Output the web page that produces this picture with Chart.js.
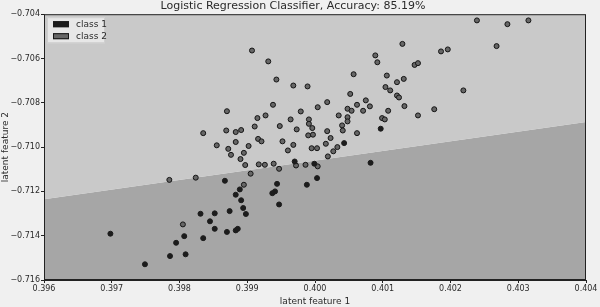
<!DOCTYPE html>
<html>
<head>
<meta charset="utf-8">
<script src="https://cdn.jsdelivr.net/npm/chart.js@4/dist/chart.umd.min.js"></script>
<style>
  html, body { margin: 0; padding: 0; background: #f0f0f0; }
  #wrap { width: 600px; height: 307px; position: relative; }
</style>
</head>
<body>
<div id="wrap"><canvas id="chart"></canvas></div>
<script>
(function () {
  "use strict";

  // ── Data ──
  var xTicks = [0.396, 0.397, 0.398, 0.399, 0.400, 0.401, 0.402, 0.403, 0.404];
  var yTicks = [-0.716, -0.714, -0.712, -0.710, -0.708, -0.706, -0.704];

  // decision boundary (ends at the plot edges)
  var boundaryX = [0.396, 0.404];
  var boundaryY = [-0.71235, -0.70887];

  var class1X = [0.39698, 0.39749, 0.39867, 0.39889, 0.39883, 0.39891, 0.39894, 0.39898, 0.39874, 0.39852,
                 0.39831, 0.39845, 0.39852, 0.39870, 0.39883, 0.39886, 0.39807, 0.39835, 0.39795, 0.39786,
                 0.39809, 0.40003, 0.39944, 0.39988, 0.39941, 0.39937, 0.39947, 0.39999, 0.40043, 0.40082,
                 0.40097, 0.39970];
  var class1Y = [-0.71391, -0.71529, -0.71152, -0.71191, -0.71215, -0.71240, -0.71275, -0.71302, -0.71289, -0.71299,
                 -0.71301, -0.71335, -0.71369, -0.71383, -0.71376, -0.71369, -0.71402, -0.71411, -0.71432, -0.71492,
                 -0.71484, -0.71140, -0.71166, -0.71170, -0.71200, -0.71208, -0.71259, -0.71075, -0.70982, -0.71071,
                 -0.70917, -0.71065];

  var class2X = [0.39907, 0.39870, 0.39915, 0.39911, 0.39835, 0.39869, 0.39883, 0.39891, 0.39916, 0.39921,
                 0.39855, 0.39872, 0.39876, 0.39883, 0.39902, 0.39895, 0.39890, 0.39897, 0.39917, 0.39905,
                 0.39785, 0.39824, 0.39895, 0.39805, 0.39931, 0.40057, 0.39943, 0.39968, 0.39989, 0.40052,
                 0.39938, 0.40018, 0.40004, 0.40075, 0.40062, 0.40081, 0.40048, 0.40054, 0.40071, 0.39979,
                 0.39927, 0.40035, 0.40048, 0.39964, 0.39991, 0.40048, 0.39991, 0.39948, 0.39996, 0.40040,
                 0.39973, 0.40018, 0.40041, 0.40062, 0.39990, 0.39997, 0.40023, 0.39952, 0.39968, 0.40016,
                 0.40033, 0.39995, 0.40003, 0.39960, 0.40027, 0.40019, 0.39939, 0.39926, 0.39972, 0.39986,
                 0.39947, 0.40004, 0.40239, 0.40129, 0.40186, 0.40196, 0.40089, 0.40092, 0.40147, 0.40152,
                 0.40106, 0.40121, 0.40131, 0.40104, 0.40111, 0.40219, 0.40121, 0.40124, 0.40132, 0.40108,
                 0.40176, 0.40152, 0.40099, 0.40103, 0.40284, 0.40315, 0.40268];
  var class2Y = [-0.70564, -0.70838, -0.70869, -0.70907, -0.70937, -0.70925, -0.70932, -0.70923, -0.70963, -0.70974,
                 -0.70992, -0.71008, -0.71035, -0.70977, -0.70995, -0.71026, -0.71054, -0.71081, -0.71078, -0.71120,
                 -0.71148, -0.71138, -0.71170, -0.71349, -0.70613, -0.70671, -0.70695, -0.70722, -0.70726, -0.70760,
                 -0.70809, -0.70797, -0.70820, -0.70789, -0.70809, -0.70816, -0.70827, -0.70836, -0.70836, -0.70839,
                 -0.70857, -0.70857, -0.70865, -0.70875, -0.70875, -0.70884, -0.70895, -0.70905, -0.70914, -0.70902,
                 -0.70920, -0.70928, -0.70925, -0.70937, -0.70947, -0.70944, -0.70959, -0.70974, -0.70990, -0.70985,
                 -0.71000, -0.71005, -0.71005, -0.71015, -0.71019, -0.71042, -0.71075, -0.71080, -0.71083, -0.71080,
                 -0.71098, -0.71087, -0.70428, -0.70534, -0.70568, -0.70559, -0.70586, -0.70617, -0.70629, -0.70621,
                 -0.70677, -0.70707, -0.70692, -0.70729, -0.70744, -0.70744, -0.70767, -0.70776, -0.70815, -0.70836,
                 -0.70829, -0.70857, -0.70869, -0.70875, -0.70445, -0.70428, -0.70544];

  var REGION_UPPER = "#c9c9c9", REGION_LOWER = "#a6a6a6";
  var C1_FILL = "#1c1c1c", C2_FILL = "#666666", C2_EDGE = "#151515";
  var TXT = "#2a2a2a";

  function pts(xs, ys) {
    return xs.map(function (x, i) { return { x: x, y: ys[i] }; });
  }
  function fmt(v) {
    return v.toFixed(3).replace("-", "\u2212");
  }

  // ── Legend drawn inside the plot, top-left ──
  var insideLegend = {
    id: "insideLegend",
    afterDatasetsDraw: function (chart) {
      var ctx = chart.ctx, a = chart.chartArea;
      ctx.save();
      ctx.strokeStyle = "#222";
      ctx.lineWidth = 1;
      ctx.strokeRect(a.left + 0.5, a.top + 0.5, a.right - a.left - 1, a.bottom - a.top - 1);

      var x0 = a.left + 3, y0 = a.top + 3;
      ctx.fillStyle = "rgba(236,236,236,0.85)";
      ctx.fillRect(x0, y0, 58, 26);
      ctx.strokeStyle = "#cfcfcf";
      ctx.strokeRect(x0 + 0.5, y0 + 0.5, 57, 25);

      var items = chart.data.datasets.filter(function (d) { return d.inLegend; });
      ctx.font = "9px 'DejaVu Sans', sans-serif";
      ctx.textBaseline = "middle";
      items.forEach(function (d, i) {
        var cy = y0 + 7 + i * 12;
        ctx.fillStyle = d.backgroundColor;
        ctx.fillRect(x0 + 6, cy - 3, 16, 6);
        ctx.strokeStyle = d.borderColor;
        ctx.strokeRect(x0 + 6.5, cy - 2.5, 15, 5);
        ctx.fillStyle = TXT;
        ctx.fillText(d.label, x0 + 29, cy);
      });
      ctx.restore();
    }
  };

  new Chart(document.getElementById("chart"), {
    type: "scatter",
    data: {
      datasets: [
        {
          label: "class 1", inLegend: true,
          data: pts(class1X, class1Y),
          backgroundColor: C1_FILL, borderColor: C1_FILL, borderWidth: 1,
          pointRadius: 2.5, pointStyle: "circle", order: 1
        },
        {
          label: "class 2", inLegend: true,
          data: pts(class2X, class2Y),
          backgroundColor: C2_FILL, borderColor: C2_EDGE, borderWidth: 1,
          pointRadius: 2.5, pointStyle: "circle", order: 2
        },
        {
          label: "region 2", type: "line",
          data: pts(boundaryX, boundaryY),
          showLine: true, borderWidth: 0, pointRadius: 0,
          fill: "end", backgroundColor: REGION_UPPER, order: 5
        },
        {
          label: "region 1", type: "line",
          data: pts(boundaryX, boundaryY),
          showLine: true, borderWidth: 0, pointRadius: 0,
          fill: "start", backgroundColor: REGION_LOWER, order: 6
        }
      ]
    },
    options: {
      responsive: true, maintainAspectRatio: false, animation: false,
      layout: { padding: { left: 0, right: 14, top: 0, bottom: 0 } },
      plugins: {
        legend: { display: false },
        tooltip: { enabled: false },
        filler: { propagate: false },
        title: {
          display: true,
          text: "Logistic Regression Classifier, Accuracy: 85.19%",
          color: TXT,
          font: { family: "'DejaVu Sans', sans-serif", size: 11, weight: "normal" },
          padding: { top: 0, bottom: 1 }
        }
      },
      scales: {
        x: {
          type: "linear", min: 0.396, max: 0.404,
          afterBuildTicks: function (s) { s.ticks = xTicks.map(function (v) { return { value: v }; }); },
          afterFit: function (s) { s.height = 27; },
          grid: { display: true, drawOnChartArea: false, drawTicks: true, tickLength: 3, color: "#222" },
          border: { display: true, color: "#222" },
          ticks: { color: TXT, font: { family: "'DejaVu Sans', sans-serif", size: 8 }, padding: 1, maxRotation: 0,
                   callback: function (v) { return fmt(v); } },
          title: { display: true, text: "latent feature 1", color: TXT,
                   font: { family: "'DejaVu Sans', sans-serif", size: 9 }, padding: { top: 0, bottom: 0 } }
        },
        y: {
          type: "linear", min: -0.716, max: -0.704,
          afterBuildTicks: function (s) { s.ticks = yTicks.map(function (v) { return { value: v }; }); },
          afterFit: function (s) { s.width = 44; },
          grid: { display: true, drawOnChartArea: false, drawTicks: true, tickLength: 3, color: "#222" },
          border: { display: true, color: "#222" },
          ticks: { color: TXT, font: { family: "'DejaVu Sans', sans-serif", size: 8 }, padding: 1,
                   callback: function (v) { return fmt(v); } },
          title: { display: true, text: "latent feature 2", color: TXT,
                   font: { family: "'DejaVu Sans', sans-serif", size: 9 }, padding: { top: 0, bottom: 0 } }
        }
      }
    },
    plugins: [insideLegend]
  });
})();
</script>
</body>
</html>
